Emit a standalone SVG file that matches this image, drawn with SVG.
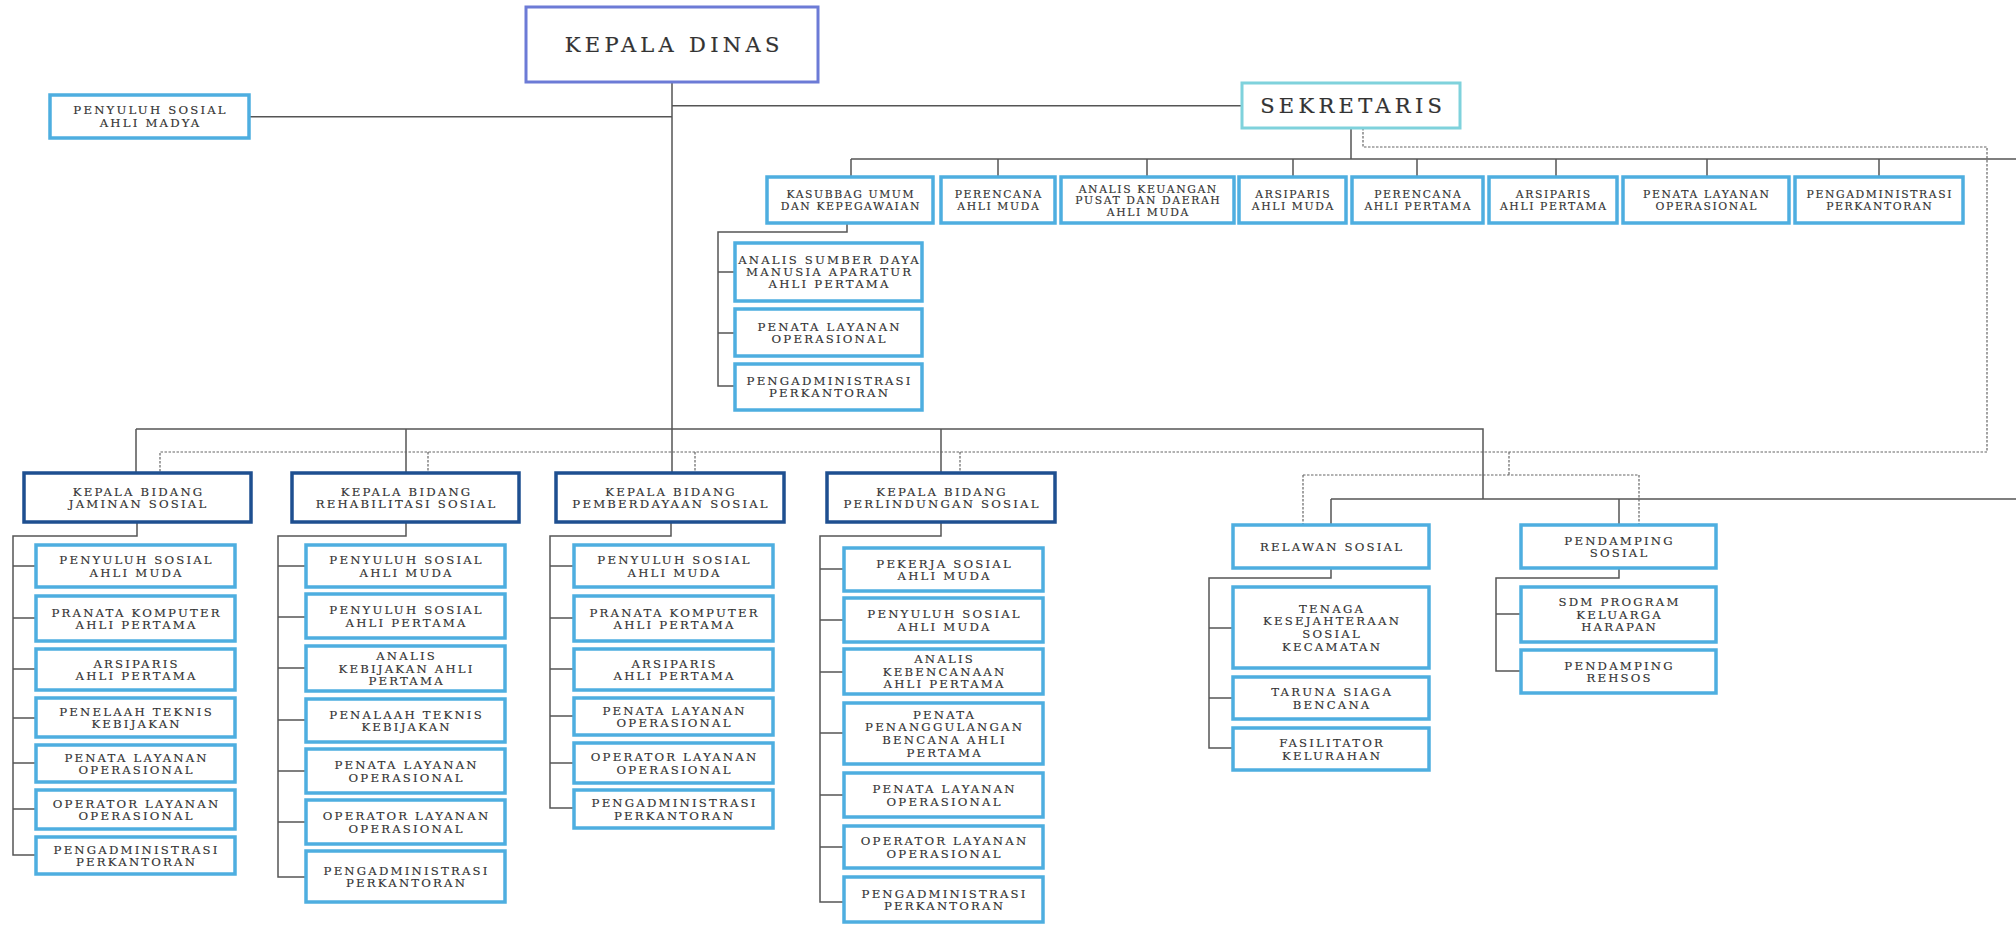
<svg xmlns="http://www.w3.org/2000/svg" width="2016" height="926" viewBox="0 0 2016 926">
<style>
.b{fill:#fff;stroke:#4eaee0;stroke-width:3.5}
.kb{fill:#fff;stroke:#1e4f90;stroke-width:3.5}
.kd{fill:#fff;stroke:#6c7bd6;stroke-width:3}
.sk{fill:#fff;stroke:#7fd2dc;stroke-width:3}
text{font-family:"DejaVu Serif","Liberation Serif",serif;fill:#333;stroke:#333;stroke-width:0.15;text-anchor:middle}
.tt{font-size:21px;letter-spacing:4.3px;stroke-width:0.2}
.ts{font-size:10.8px;letter-spacing:1.6px}
.tc{font-size:11.7px;letter-spacing:2.2px}
.ln{fill:none;stroke:#555;stroke-width:1.5}
.ds{fill:none;stroke:#666;stroke-width:1.2;stroke-dasharray:2.5 1.5}
</style>
<rect width="2016" height="926" fill="#fff"/>
<g id="connectors">
<path class="ln" d="M672,82V473M249,116.7H672M672,105.7H1242"/>
<path class="ln" d="M1351,128V159M851,159H2016M851,159V177M998,159V177M1147,159V177M1293,159V177M1417,159V177M1556,159V177M1707,159V177M1879,159V177"/>
<path class="ln" d="M847,223V232H718V386H735M718,272H735M718,333H735"/>
<path class="ln" d="M136,429H1483V499M136,429V473M406,429V473M941,429V473M1331,499H2016M1331,499V525M1619,499V525"/>
<path class="ds" d="M1363,128V147H1987V452H160V473M428,452V473M695,452V473M960,452V473M1509,452V475M1303,475H1639M1303,475V525M1639,475V525"/>
<path class="ln" d="M137,522V536H13V855H36M13,566H36M13,618H36M13,669H36M13,718H36M13,763H36M13,809H36"/>
<path class="ln" d="M406,522V536H278V877H306M278,566H306M278,617H306M278,668H306M278,720H306M278,771H306M278,822H306"/>
<path class="ln" d="M671,522V536H550V808H574M550,566H574M550,618H574M550,669H574M550,716H574M550,763H574"/>
<path class="ln" d="M941,522V536H820V902H844M820,569H844M820,620H844M820,672H844M820,733H844M820,795H844M820,847H844"/>
<path class="ln" d="M1331,568V578H1209V748H1233M1209,628H1233M1209,698H1233"/>
<path class="ln" d="M1619,568V578H1496V671H1521M1496,614H1521"/>
</g>
<g id="kepala-dinas"><rect class="kd" x="526" y="7" width="292" height="75"/><text class="tt"><tspan x="674.2" y="52.2">KEPALA DINAS</tspan></text></g>
<g id="penyuluh-madya"><rect class="b" x="50" y="95" width="199" height="43"/><text class="tc"><tspan x="150.6" y="114.3">PENYULUH SOSIAL</tspan><tspan x="150.6" y="127.3">AHLI MADYA</tspan></text></g>
<g id="sekretaris"><rect class="sk" x="1242" y="83" width="218" height="45"/><text class="tt"><tspan x="1353.2" y="113.2">SEKRETARIS</tspan></text></g>

<g id="kasubbag"><rect class="b" x="767" y="177" width="166" height="46"/><text class="ts"><tspan x="850.8" y="198.2">KASUBBAG UMUM</tspan><tspan x="850.8" y="209.7">DAN KEPEGAWAIAN</tspan></text></g>
<g id="perencana-muda"><rect class="b" x="941" y="177" width="114" height="46"/><text class="ts"><tspan x="998.8" y="198.2">PERENCANA</tspan><tspan x="998.8" y="209.7">AHLI MUDA</tspan></text></g>
<g id="analis-keuangan"><rect class="b" x="1061" y="177" width="173" height="46"/><text class="ts"><tspan x="1148.3" y="192.5">ANALIS KEUANGAN</tspan><tspan x="1148.3" y="204">PUSAT DAN DAERAH</tspan><tspan x="1148.3" y="215.5">AHLI MUDA</tspan></text></g>
<g id="arsiparis-muda"><rect class="b" x="1239" y="177" width="107" height="46"/><text class="ts"><tspan x="1293.3" y="198.2">ARSIPARIS</tspan><tspan x="1293.3" y="209.7">AHLI MUDA</tspan></text></g>
<g id="perencana-pertama"><rect class="b" x="1352" y="177" width="131" height="46"/><text class="ts"><tspan x="1418.3" y="198.2">PERENCANA</tspan><tspan x="1418.3" y="209.7">AHLI PERTAMA</tspan></text></g>
<g id="arsiparis-pertama"><rect class="b" x="1489" y="177" width="128" height="46"/><text class="ts"><tspan x="1553.8" y="198.2">ARSIPARIS</tspan><tspan x="1553.8" y="209.7">AHLI PERTAMA</tspan></text></g>
<g id="penata-sek"><rect class="b" x="1623" y="177" width="166" height="46"/><text class="ts"><tspan x="1706.8" y="198.2">PENATA LAYANAN</tspan><tspan x="1706.8" y="209.7">OPERASIONAL</tspan></text></g>
<g id="pengadm-sek"><rect class="b" x="1795" y="177" width="168" height="46"/><text class="ts"><tspan x="1879.8" y="198.2">PENGADMINISTRASI</tspan><tspan x="1879.8" y="209.7">PERKANTORAN</tspan></text></g>

<g id="analis-sdm"><rect class="b" x="735" y="243" width="187" height="58"/><text class="tc"><tspan x="829.6" y="264.3">ANALIS SUMBER DAYA</tspan><tspan x="829.6" y="276.3">MANUSIA APARATUR</tspan><tspan x="829.6" y="288.3">AHLI PERTAMA</tspan></text></g>
<g id="penata-kasubbag"><rect class="b" x="735" y="309" width="187" height="47"/><text class="tc"><tspan x="829.6" y="330.8">PENATA LAYANAN</tspan><tspan x="829.6" y="342.8">OPERASIONAL</tspan></text></g>
<g id="pengadm-kasubbag"><rect class="b" x="735" y="364" width="187" height="46"/><text class="tc"><tspan x="829.6" y="385.3">PENGADMINISTRASI</tspan><tspan x="829.6" y="397.3">PERKANTORAN</tspan></text></g>

<g id="kb-jaminan"><rect class="kb" x="24" y="473" width="227" height="49"/><text class="tc"><tspan x="138.6" y="495.5">KEPALA BIDANG</tspan><tspan x="138.6" y="508.2">JAMINAN SOSIAL</tspan></text></g>
<g id="kb-rehab"><rect class="kb" x="292" y="473" width="227" height="49"/><text class="tc"><tspan x="406.6" y="495.5">KEPALA BIDANG</tspan><tspan x="406.6" y="508.2">REHABILITASI SOSIAL</tspan></text></g>
<g id="kb-pember"><rect class="kb" x="556" y="473" width="228" height="49"/><text class="tc"><tspan x="671.1" y="495.5">KEPALA BIDANG</tspan><tspan x="671.1" y="508.2">PEMBERDAYAAN SOSIAL</tspan></text></g>
<g id="kb-perlin"><rect class="kb" x="827" y="473" width="228" height="49"/><text class="tc"><tspan x="942.1" y="495.5">KEPALA BIDANG</tspan><tspan x="942.1" y="508.2">PERLINDUNGAN SOSIAL</tspan></text></g>

<g id="jam-1"><rect class="b" x="36" y="545" width="199" height="42"/><text class="tc"><tspan x="136.6" y="564.1">PENYULUH SOSIAL</tspan><tspan x="136.6" y="576.6">AHLI MUDA</tspan></text></g>
<g id="jam-2"><rect class="b" x="36" y="596" width="199" height="45"/><text class="tc"><tspan x="136.6" y="616.6">PRANATA KOMPUTER</tspan><tspan x="136.6" y="629.1">AHLI PERTAMA</tspan></text></g>
<g id="jam-3"><rect class="b" x="36" y="649" width="199" height="41"/><text class="tc"><tspan x="136.6" y="667.6">ARSIPARIS</tspan><tspan x="136.6" y="680.1">AHLI PERTAMA</tspan></text></g>
<g id="jam-4"><rect class="b" x="36" y="698" width="199" height="39"/><text class="tc"><tspan x="136.6" y="715.6">PENELAAH TEKNIS</tspan><tspan x="136.6" y="728.1">KEBIJAKAN</tspan></text></g>
<g id="jam-5"><rect class="b" x="36" y="745" width="199" height="37"/><text class="tc"><tspan x="136.6" y="761.6">PENATA LAYANAN</tspan><tspan x="136.6" y="774.1">OPERASIONAL</tspan></text></g>
<g id="jam-6"><rect class="b" x="36" y="790" width="199" height="39"/><text class="tc"><tspan x="136.6" y="807.6">OPERATOR LAYANAN</tspan><tspan x="136.6" y="820.1">OPERASIONAL</tspan></text></g>
<g id="jam-7"><rect class="b" x="36" y="837" width="199" height="37"/><text class="tc"><tspan x="136.6" y="853.6">PENGADMINISTRASI</tspan><tspan x="136.6" y="866.1">PERKANTORAN</tspan></text></g>

<g id="reh-1"><rect class="b" x="306" y="545" width="199" height="42"/><text class="tc"><tspan x="406.6" y="564.1">PENYULUH SOSIAL</tspan><tspan x="406.6" y="576.6">AHLI MUDA</tspan></text></g>
<g id="reh-2"><rect class="b" x="306" y="594" width="199" height="44"/><text class="tc"><tspan x="406.6" y="614.1">PENYULUH SOSIAL</tspan><tspan x="406.6" y="626.6">AHLI PERTAMA</tspan></text></g>
<g id="reh-3"><rect class="b" x="306" y="646" width="199" height="45"/><text class="tc"><tspan x="406.6" y="660.3">ANALIS</tspan><tspan x="406.6" y="672.8">KEBIJAKAN AHLI</tspan><tspan x="406.6" y="685.3">PERTAMA</tspan></text></g>
<g id="reh-4"><rect class="b" x="306" y="699" width="199" height="43"/><text class="tc"><tspan x="406.6" y="718.6">PENALAAH TEKNIS</tspan><tspan x="406.6" y="731.1">KEBIJAKAN</tspan></text></g>
<g id="reh-5"><rect class="b" x="306" y="749" width="199" height="44"/><text class="tc"><tspan x="406.6" y="769.1">PENATA LAYANAN</tspan><tspan x="406.6" y="781.6">OPERASIONAL</tspan></text></g>
<g id="reh-6"><rect class="b" x="306" y="800" width="199" height="44"/><text class="tc"><tspan x="406.6" y="820.1">OPERATOR LAYANAN</tspan><tspan x="406.6" y="832.6">OPERASIONAL</tspan></text></g>
<g id="reh-7"><rect class="b" x="306" y="851" width="199" height="51"/><text class="tc"><tspan x="406.6" y="874.6">PENGADMINISTRASI</tspan><tspan x="406.6" y="887.1">PERKANTORAN</tspan></text></g>

<g id="pem-1"><rect class="b" x="574" y="545" width="199" height="42"/><text class="tc"><tspan x="674.6" y="564.1">PENYULUH SOSIAL</tspan><tspan x="674.6" y="576.6">AHLI MUDA</tspan></text></g>
<g id="pem-2"><rect class="b" x="574" y="596" width="199" height="45"/><text class="tc"><tspan x="674.6" y="616.6">PRANATA KOMPUTER</tspan><tspan x="674.6" y="629.1">AHLI PERTAMA</tspan></text></g>
<g id="pem-3"><rect class="b" x="574" y="649" width="199" height="41"/><text class="tc"><tspan x="674.6" y="667.6">ARSIPARIS</tspan><tspan x="674.6" y="680.1">AHLI PERTAMA</tspan></text></g>
<g id="pem-4"><rect class="b" x="574" y="698" width="199" height="37"/><text class="tc"><tspan x="674.6" y="714.6">PENATA LAYANAN</tspan><tspan x="674.6" y="727.1">OPERASIONAL</tspan></text></g>
<g id="pem-5"><rect class="b" x="574" y="743" width="199" height="40"/><text class="tc"><tspan x="674.6" y="761.1">OPERATOR LAYANAN</tspan><tspan x="674.6" y="773.6">OPERASIONAL</tspan></text></g>
<g id="pem-6"><rect class="b" x="574" y="790" width="199" height="38"/><text class="tc"><tspan x="674.6" y="807.1">PENGADMINISTRASI</tspan><tspan x="674.6" y="819.6">PERKANTORAN</tspan></text></g>

<g id="per-1"><rect class="b" x="844" y="548" width="199" height="43"/><text class="tc"><tspan x="944.6" y="567.6">PEKERJA SOSIAL</tspan><tspan x="944.6" y="580.1">AHLI MUDA</tspan></text></g>
<g id="per-2"><rect class="b" x="844" y="598" width="199" height="44"/><text class="tc"><tspan x="944.6" y="618.1">PENYULUH SOSIAL</tspan><tspan x="944.6" y="630.6">AHLI MUDA</tspan></text></g>
<g id="per-3"><rect class="b" x="844" y="649" width="199" height="45"/><text class="tc"><tspan x="944.6" y="663.3">ANALIS</tspan><tspan x="944.6" y="675.8">KEBENCANAAN</tspan><tspan x="944.6" y="688.3">AHLI PERTAMA</tspan></text></g>
<g id="per-4"><rect class="b" x="844" y="703" width="199" height="61"/><text class="tc"><tspan x="944.6" y="718.6">PENATA</tspan><tspan x="944.6" y="731.4">PENANGGULANGAN</tspan><tspan x="944.6" y="744.2">BENCANA AHLI</tspan><tspan x="944.6" y="757">PERTAMA</tspan></text></g>
<g id="per-5"><rect class="b" x="844" y="773" width="199" height="44"/><text class="tc"><tspan x="944.6" y="793.1">PENATA LAYANAN</tspan><tspan x="944.6" y="805.6">OPERASIONAL</tspan></text></g>
<g id="per-6"><rect class="b" x="844" y="826" width="199" height="42"/><text class="tc"><tspan x="944.6" y="845.1">OPERATOR LAYANAN</tspan><tspan x="944.6" y="857.6">OPERASIONAL</tspan></text></g>
<g id="per-7"><rect class="b" x="844" y="877" width="199" height="45"/><text class="tc"><tspan x="944.6" y="897.6">PENGADMINISTRASI</tspan><tspan x="944.6" y="910.1">PERKANTORAN</tspan></text></g>

<g id="relawan"><rect class="b" x="1233" y="525" width="196" height="43"/><text class="tc"><tspan x="1332.1" y="550.8">RELAWAN SOSIAL</tspan></text></g>
<g id="tenaga"><rect class="b" x="1233" y="587" width="196" height="81"/><text class="tc"><tspan x="1332.1" y="612.6">TENAGA</tspan><tspan x="1332.1" y="625.4">KESEJAHTERAAN</tspan><tspan x="1332.1" y="638.2">SOSIAL</tspan><tspan x="1332.1" y="651">KECAMATAN</tspan></text></g>
<g id="taruna"><rect class="b" x="1233" y="677" width="196" height="42"/><text class="tc"><tspan x="1332.1" y="696.1">TARUNA SIAGA</tspan><tspan x="1332.1" y="708.6">BENCANA</tspan></text></g>
<g id="fasilitator"><rect class="b" x="1233" y="728" width="196" height="42"/><text class="tc"><tspan x="1332.1" y="747.1">FASILITATOR</tspan><tspan x="1332.1" y="759.6">KELURAHAN</tspan></text></g>

<g id="pendamping"><rect class="b" x="1521" y="525" width="195" height="43"/><text class="tc"><tspan x="1619.6" y="544.6">PENDAMPING</tspan><tspan x="1619.6" y="557.1">SOSIAL</tspan></text></g>
<g id="sdm-pkh"><rect class="b" x="1521" y="587" width="195" height="55"/><text class="tc"><tspan x="1619.6" y="606.3">SDM PROGRAM</tspan><tspan x="1619.6" y="618.8">KELUARGA</tspan><tspan x="1619.6" y="631.3">HARAPAN</tspan></text></g>
<g id="rehsos"><rect class="b" x="1521" y="650" width="195" height="43"/><text class="tc"><tspan x="1619.6" y="669.6">PENDAMPING</tspan><tspan x="1619.6" y="682.1">REHSOS</tspan></text></g>
</svg>
